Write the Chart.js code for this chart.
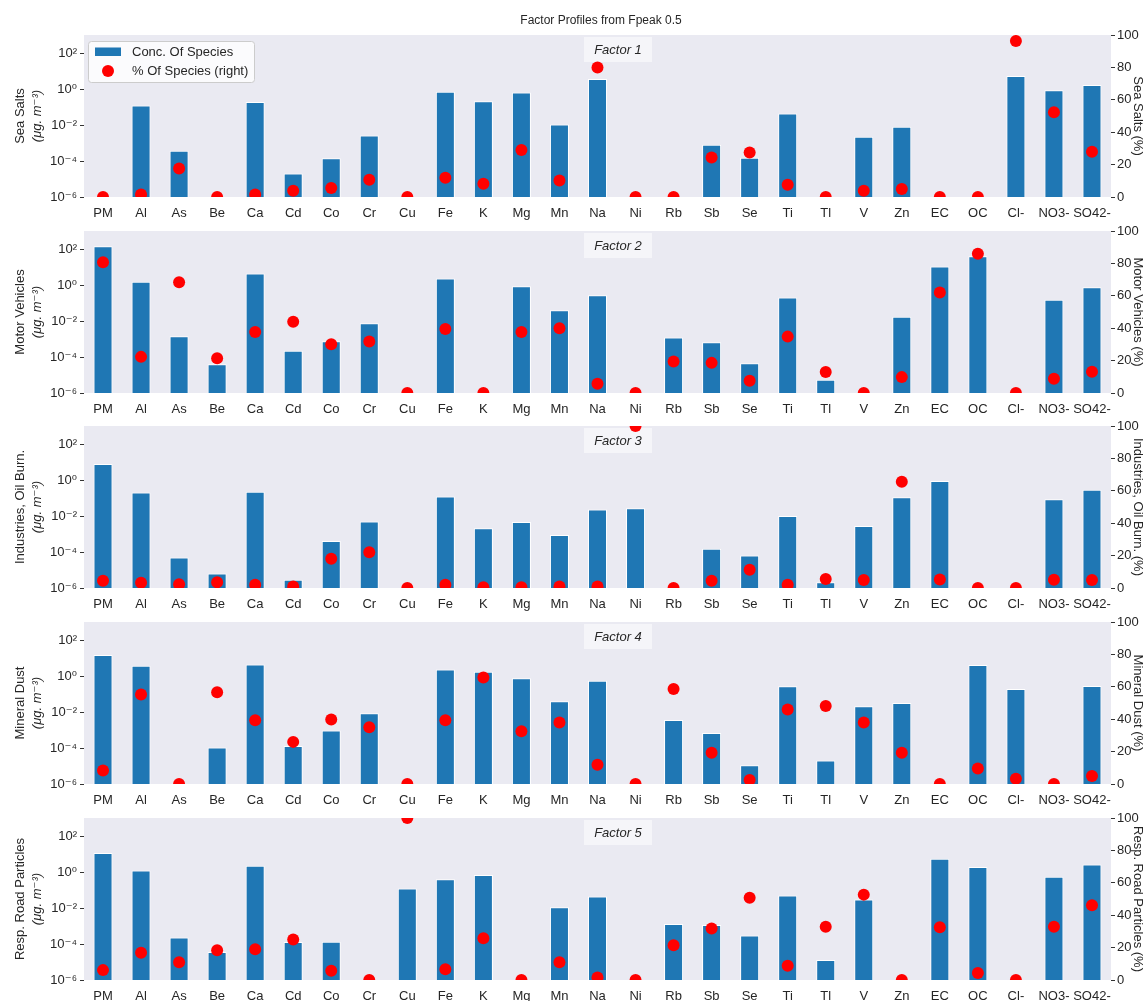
<!DOCTYPE html>
<html><head><meta charset="utf-8">
<script src="https://cdn.jsdelivr.net/npm/chart.js@4.4.1/dist/chart.umd.min.js"></script>
<style>
html,body{margin:0;padding:0;background:#fff;}
#wrap{position:relative;width:1145px;height:1001px;overflow:hidden;background:#fff;}
#wrap canvas{position:absolute;left:0;}
</style></head><body><div id="wrap"></div>
<script>
// ---------------- DATA ----------------
const species = ["PM","Al","As","Be","Ca","Cd","Co","Cr","Cu","Fe","K","Mg","Mn","Na","Ni","Rb","Sb","Se","Ti","Tl","V","Zn","EC","OC","Cl-","NO3-","SO42-"];
const factorNames = ["Sea Salts","Motor Vehicles","Industries, Oil Burn.","Mineral Dust","Resp. Road Particles"];
const factorLabels = ["Factor 1","Factor 2","Factor 3","Factor 4","Factor 5"];
const chartTitle = "Factor Profiles from Fpeak 0.5";
const legendLabels = ["Conc. Of Species","% Of Species (right)"];
const concUnit = "(μg. m⁻³)";

// concentration of species (μg/m3), null = no bar
const concSeaSalts = [null,0.12,3.7e-4,null,0.19,2e-5,1.4e-4,2.6e-3,null,0.7,0.21,0.63,0.0105,3.6,null,null,8e-4,1.5e-4,0.043,null,2.2e-3,8e-3,null,null,5.3,0.85,1.66];
const concMotorVehicles = [140,1.5,1.4e-3,3.9e-5,4.3,2.2e-4,7.4e-4,7.4e-3,null,2.3,null,0.85,0.039,0.27,null,1.2e-3,6.5e-4,4.5e-5,0.2,5.5e-6,null,0.017,10.5,39,null,0.15,0.74];
const concIndustries = [7.8,0.2,4.9e-5,6.3e-6,0.22,2.9e-6,4.1e-4,5e-3,null,0.12,2.1e-3,4.7e-3,8.7e-4,0.023,0.027,null,1.5e-4,6.3e-5,0.01,2.1e-6,2.8e-3,0.11,0.87,null,null,0.085,0.29];
const concMineralDust = [14.7,3.7,null,1.05e-4,4.4,1.3e-4,9.5e-4,8.5e-3,null,2.3,1.7,0.74,0.039,0.55,null,3.6e-3,6.8e-4,1.1e-5,0.27,2e-5,0.021,0.032,null,4.1,0.19,null,0.28];
const concRoadParticles = [11.4,1.2,2.3e-4,3.6e-5,2.2,1.3e-4,1.35e-4,null,0.12,0.39,0.68,null,0.011,0.043,null,1.3e-3,1.15e-3,3e-4,0.05,1.3e-5,0.03,null,5.5,1.9,null,0.55,2.6];

// % of species (right axis)
const pctSeaSalts = [0,1.6,17.6,0,1.6,3.9,5.5,10.7,0,11.9,8.2,29,10.2,80,0,0,24.4,27.5,7.6,0,3.9,4.9,0,0,96.3,52.3,28];
const pctMotorVehicles = [80.7,22.3,68.4,21.5,37.7,44,30.1,31.8,0,39.5,0,37.7,40,5.7,0,19.5,18.6,7.6,34.8,12.9,0,9.8,62,86,0,8.8,13.1];
const pctIndustries = [4.5,3.3,2.3,3.5,2,1,18,22,0,2,0.5,0.5,1,1,100,0,4.5,11.3,2,5.5,4.9,65.6,5.3,0,0,5.1,4.9];
const pctMineralDust = [8.4,55.3,0,56.6,39.3,26,39.8,35,0,39.3,65.8,32.6,37.9,11.9,0,58.6,19.3,2.5,46,48.2,37.9,19.3,0,9.6,3.3,0,4.9];
const pctRoadParticles = [6.1,16.8,10.9,18.4,19,25,5.7,0,100,6.6,25.8,0,10.9,1.6,0,21.5,31.8,50.8,8.8,32.8,52.7,0,32.6,4.3,0,32.8,46.1];

const logTickValues = [1e-6,1e-4,1e-2,1,1e2];
const logTickLabels = ["10⁻⁶","10⁻⁴","10⁻²","10⁰","10²"];

const concSeries = [concSeaSalts,concMotorVehicles,concIndustries,concMineralDust,concRoadParticles];
const pctSeries = [pctSeaSalts,pctMotorVehicles,pctIndustries,pctMineralDust,pctRoadParticles];

// ---------------- LAYOUT / STYLE ----------------
const W = 1145, LEFT_W = 84, RIGHT_W = 34, PLOT_H = 162, X_AXIS_H = 26;
const plotTops = [35,231,426,622,818];
const FONT = "'Liberation Sans', Arial, 'DejaVu Sans', sans-serif";
const TXT = '#262626';
const BAR = '#1f77b4';

const decor = {
  id: 'decor',
  beforeDraw(chart){
    const {ctx, chartArea:a} = chart;
    ctx.save();
    ctx.fillStyle = '#EAEAF2';
    ctx.fillRect(a.left, a.top, a.right - a.left, a.bottom - a.top);
    ctx.restore();
  },
  beforeDatasetsDraw(chart, args, opts){
    const {ctx, chartArea:a} = chart;
    // factor label box
    ctx.save();
    const cx = 618, bw = 68, bh = 25, by = a.top + 2;
    ctx.fillStyle = 'rgba(255,255,255,0.5)';
    ctx.fillRect(cx - bw/2, by, bw, bh);
    ctx.fillStyle = TXT;
    ctx.font = "italic 13px " + FONT;
    ctx.textAlign = 'center'; ctx.textBaseline = 'middle';
    ctx.fillText(factorLabels[opts.index], cx, by + bh/2 + 0.5);
    ctx.restore();
  },
  beforeDatasetDraw(chart, args){
    const {ctx, chartArea:a} = chart;
    ctx.save();
    ctx.beginPath();
    ctx.rect(a.left, a.top, a.right - a.left, a.bottom - a.top);
    ctx.clip();
  },
  afterDatasetDraw(chart){
    chart.ctx.restore();
  },
  afterDraw(chart, args, opts){
    const {ctx, chartArea:a} = chart;
    const i = opts.index;
    ctx.save();
    // left axis title (two lines)
    const cy = (a.top + a.bottom) / 2;
    ctx.fillStyle = TXT;
    ctx.textAlign = 'center'; ctx.textBaseline = 'middle';
    ctx.translate(20, cy); ctx.rotate(-Math.PI/2);
    ctx.font = "13px " + FONT;
    ctx.fillText(factorNames[i], 0, 0);
    ctx.font = "italic 13px " + FONT;
    ctx.fillText(concUnit, 0, 17);
    ctx.restore();
    if (i === 0) {
      ctx.save();
      // main title
      ctx.fillStyle = TXT;
      ctx.font = "12px " + FONT;
      ctx.textAlign = 'center'; ctx.textBaseline = 'middle';
      ctx.fillText(chartTitle, 601, 21);
      // legend
      const lx = a.left + 4.5, ly = a.top + 6.5, lw = 166, lh = 41, r = 3;
      ctx.beginPath();
      ctx.moveTo(lx + r, ly); ctx.lineTo(lx + lw - r, ly); ctx.arcTo(lx + lw, ly, lx + lw, ly + r, r);
      ctx.lineTo(lx + lw, ly + lh - r); ctx.arcTo(lx + lw, ly + lh, lx + lw - r, ly + lh, r);
      ctx.lineTo(lx + r, ly + lh); ctx.arcTo(lx, ly + lh, lx, ly + lh - r, r);
      ctx.lineTo(lx, ly + r); ctx.arcTo(lx, ly, lx + r, ly, r); ctx.closePath();
      ctx.fillStyle = 'rgba(255,255,255,0.8)'; ctx.fill();
      ctx.strokeStyle = '#cccccc'; ctx.lineWidth = 1; ctx.stroke();
      ctx.fillStyle = BAR;
      ctx.fillRect(lx + 6.5, ly + 6, 26, 8.5);
      ctx.fillStyle = '#ff0000';
      ctx.beginPath(); ctx.arc(lx + 19.5, ly + 29.5, 6, 0, Math.PI*2); ctx.fill();
      ctx.fillStyle = TXT;
      ctx.font = "13px " + FONT;
      ctx.textAlign = 'left'; ctx.textBaseline = 'middle';
      ctx.fillText(legendLabels[0], lx + 43.5, ly + 11);
      ctx.fillText(legendLabels[1], lx + 43.5, ly + 30);
      ctx.restore();
    }
  }
};

const wrap = document.getElementById('wrap');
for (let i = 0; i < 5; i++) {
  const padTop = i === 0 ? 35 : 12;
  const top = plotTops[i] - padTop;
  const H = padTop + PLOT_H + X_AXIS_H;
  const cv = document.createElement('canvas');
  cv.width = W; cv.height = H;
  cv.style.top = top + 'px'; cv.style.width = W + 'px'; cv.style.height = H + 'px';
  wrap.appendChild(cv);

  new Chart(cv, {
    type: 'bar',
    data: {
      labels: species,
      datasets: [
        {
          type: 'line', label: legendLabels[1], data: pctSeries[i], yAxisID: 'y2',
          showLine: false, pointRadius: 6, pointHoverRadius: 6, pointBorderWidth: 0,
          pointBackgroundColor: '#ff0000', borderColor: '#ff0000', clip: 0, order: 1
        },
        {
          type: 'bar', label: legendLabels[0], data: concSeries[i], yAxisID: 'y',
          backgroundColor: BAR, borderColor: '#ffffff', borderWidth: 1,
          barPercentage: 0.5, categoryPercentage: 1.0, order: 2
        }
      ]
    },
    options: {
      responsive: false, animation: false, devicePixelRatio: 1,
      layout: { padding: { top: padTop, left: 0, right: 0, bottom: 0 } },
      plugins: { legend: { display: false }, tooltip: { enabled: false }, decor: { index: i } },
      scales: {
        x: {
          type: 'category', offset: true,
          grid: { display: false, drawTicks: false }, border: { display: false },
          ticks: { font: { family: FONT, size: 13 }, color: TXT, maxRotation: 0, minRotation: 0, autoSkip: false, padding: 9 },
          afterFit: s => { s.height = X_AXIS_H; }
        },
        y: {
          type: 'logarithmic', position: 'left', min: 1e-6, max: 1e3,
          afterBuildTicks: s => { s.ticks = logTickValues.map(v => ({ value: v })); },
          ticks: {
            font: { family: FONT, size: 13 }, color: TXT, padding: 3, autoSkip: false,
            callback: v => {
              const k = logTickValues.findIndex(t => Math.abs(Math.log10(t) - Math.log10(v)) < 0.01);
              return k >= 0 ? logTickLabels[k] : '';
            }
          },
          grid: { display: true, drawOnChartArea: false, drawTicks: true, tickLength: 4, tickColor: '#333333' },
          border: { display: false },
          afterFit: s => { s.width = LEFT_W; }
        },
        y2: {
          type: 'linear', position: 'right', min: 0, max: 100,
          ticks: { stepSize: 20, font: { family: FONT, size: 13 }, color: TXT, padding: 2 },
          grid: { display: true, drawOnChartArea: false, drawTicks: true, tickLength: 4, tickColor: '#333333' },
          border: { display: false },
          title: { display: true, text: factorNames[i] + ' (%)', font: { family: FONT, size: 13 }, color: TXT, padding: { top: 0, bottom: 0 } },
          afterFit: s => { s.width = RIGHT_W; }
        }
      }
    },
    plugins: [decor]
  });
}
</script>
</body></html>
